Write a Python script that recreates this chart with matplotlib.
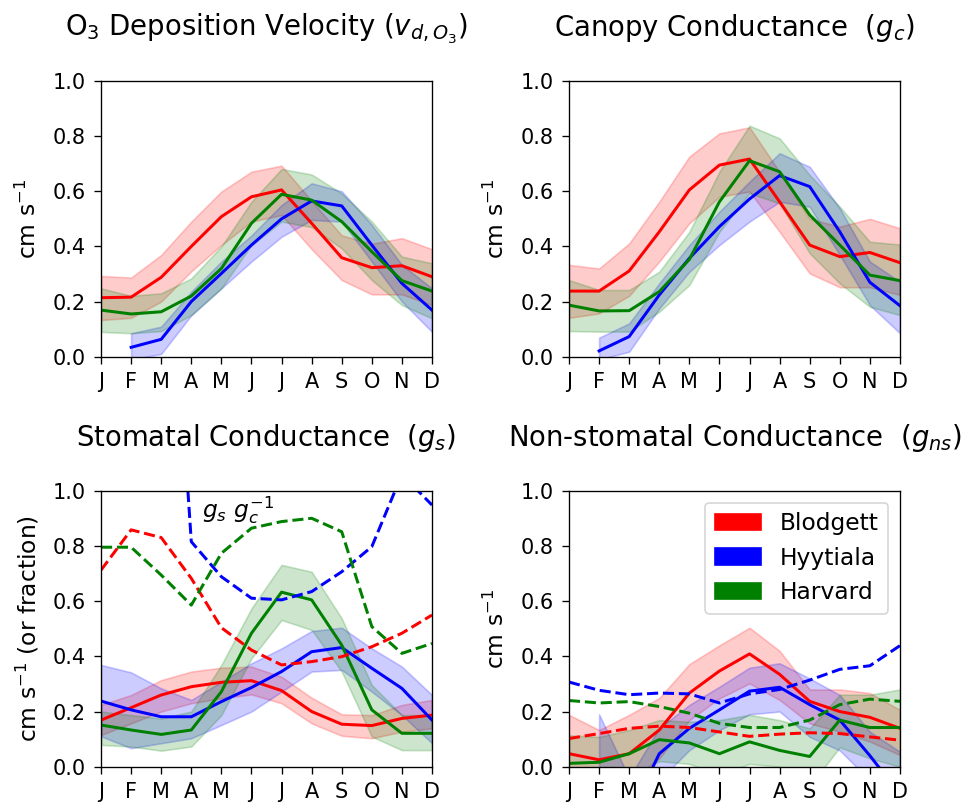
import numpy as np
import matplotlib
matplotlib.use("Agg")
import matplotlib.pyplot as plt
from matplotlib.patches import Patch

nan = np.nan
months = ["J", "F", "M", "A", "M", "J", "J", "A", "S", "O", "N", "D"]
sites = ["Blodgett", "Hyytiala", "Harvard"]
colors = ["red", "blue", "green"]

# Panel 1: O3 deposition velocity
vd_blod = [0.214, 0.216, 0.288, 0.40, 0.508, 0.58, 0.605, 0.484, 0.359, 0.323, 0.33, 0.29]
vd_blod_hi = [0.293, 0.287, 0.369, 0.49, 0.599, 0.671, 0.693, 0.565, 0.44, 0.41, 0.43, 0.39]
vd_blod_lo = [0.133, 0.141, 0.20, 0.31, 0.405, 0.49, 0.514, 0.39, 0.278, 0.226, 0.226, 0.187]
vd_hyyt = [nan, 0.034, 0.063, 0.20, 0.302, 0.405, 0.50, 0.565, 0.547, 0.405, 0.266, 0.169]
vd_hyyt_hi = [nan, 0.085, 0.109, 0.236, 0.345, 0.44, 0.55, 0.629, 0.60, 0.478, 0.333, 0.248]
vd_hyyt_lo = [nan, -0.01, 0.01, 0.15, 0.248, 0.345, 0.435, 0.496, 0.49, 0.345, 0.20, 0.09]
vd_harv = [0.169, 0.155, 0.163, 0.22, 0.32, 0.484, 0.589, 0.568, 0.49, 0.381, 0.276, 0.238]
vd_harv_hi = [0.248, 0.221, 0.23, 0.284, 0.40, 0.562, 0.681, 0.661, 0.592, 0.49, 0.363, 0.339]
vd_harv_lo = [0.09, 0.085, 0.093, 0.151, 0.248, 0.405, 0.49, 0.47, 0.393, 0.278, 0.187, 0.139]

# Panel 2: canopy conductance
gc_blod = [0.238, 0.238, 0.311, 0.453, 0.605, 0.695, 0.717, 0.562, 0.405, 0.363, 0.378, 0.341]
gc_blod_hi = [0.333, 0.32, 0.411, 0.562, 0.726, 0.81, 0.832, 0.67, 0.50, 0.472, 0.50, 0.466]
gc_blod_lo = [0.141, 0.157, 0.221, 0.345, 0.484, 0.58, 0.599, 0.453, 0.302, 0.252, 0.252, 0.224]
gc_hyyt = [nan, 0.021, 0.073, 0.224, 0.357, 0.472, 0.572, 0.657, 0.617, 0.453, 0.27, 0.185]
gc_hyyt_hi = [nan, 0.069, 0.121, 0.266, 0.405, 0.526, 0.635, 0.738, 0.689, 0.538, 0.345, 0.272]
gc_hyyt_lo = [nan, -0.01, 0.018, 0.175, 0.308, 0.405, 0.49, 0.562, 0.544, 0.369, 0.187, 0.085]
gc_harv = [0.187, 0.166, 0.167, 0.236, 0.353, 0.562, 0.711, 0.671, 0.514, 0.405, 0.296, 0.276]
gc_harv_hi = [0.278, 0.242, 0.242, 0.308, 0.453, 0.671, 0.838, 0.792, 0.659, 0.544, 0.417, 0.407]
gc_harv_lo = [0.093, 0.091, 0.091, 0.163, 0.26, 0.453, 0.593, 0.556, 0.375, 0.266, 0.181, 0.151]

# Panel 3: stomatal conductance and gs/gc ratio
gs_blod = [0.169, 0.214, 0.26, 0.29, 0.306, 0.312, 0.276, 0.20, 0.154, 0.149, 0.175, 0.187]
gs_blod_hi = [0.224, 0.26, 0.314, 0.345, 0.359, 0.363, 0.326, 0.25, 0.19, 0.187, 0.224, 0.242]
gs_blod_lo = [0.115, 0.157, 0.20, 0.23, 0.248, 0.262, 0.23, 0.157, 0.112, 0.103, 0.127, 0.139]
gs_hyyt = [0.238, 0.206, 0.181, 0.181, 0.236, 0.287, 0.345, 0.417, 0.432, 0.357, 0.284, 0.169]
gs_hyyt_hi = [0.369, 0.342, 0.284, 0.242, 0.308, 0.375, 0.429, 0.492, 0.504, 0.429, 0.363, 0.26]
gs_hyyt_lo = [0.11, 0.067, 0.085, 0.103, 0.151, 0.20, 0.272, 0.345, 0.351, 0.272, 0.187, 0.085]
gs_harv = [0.151, 0.133, 0.117, 0.133, 0.272, 0.484, 0.633, 0.605, 0.441, 0.206, 0.121, 0.121]
gs_harv_hi = [0.20, 0.187, 0.175, 0.20, 0.369, 0.574, 0.732, 0.707, 0.538, 0.296, 0.187, 0.187]
gs_harv_lo = [0.079, 0.073, 0.058, 0.073, 0.187, 0.393, 0.532, 0.496, 0.345, 0.109, 0.06, 0.06]
ratio_blod = [0.713, 0.859, 0.831, 0.683, 0.504, 0.423, 0.369, 0.381, 0.399, 0.435, 0.484, 0.55]
ratio_hyyt = [nan, 9.8, 2.45, 0.816, 0.689, 0.611, 0.605, 0.635, 0.707, 0.798, 1.06, 0.949]
ratio_harv = [0.796, 0.796, 0.695, 0.586, 0.774, 0.865, 0.889, 0.901, 0.852, 0.508, 0.411, 0.447]

# Panel 4: non-stomatal conductance
gns_blod = [0.047, 0.025, 0.047, 0.133, 0.267, 0.347, 0.409, 0.335, 0.237, 0.20, 0.179, 0.139]
gns_blod_hi = [0.188, 0.133, 0.188, 0.249, 0.372, 0.44, 0.504, 0.42, 0.28, 0.28, 0.267, 0.206]
gns_blod_lo = [-0.05, -0.08, -0.05, 0.03, 0.169, 0.248, 0.302, 0.242, 0.157, 0.127, 0.091, 0.042]
gns_hyyt = [nan, -0.2, -0.18, 0.047, 0.139, 0.206, 0.274, 0.288, 0.225, 0.169, 0.04, -0.1]
gns_hyyt_hi = [nan, 0.19, -0.04, 0.14, 0.224, 0.29, 0.359, 0.375, 0.32, 0.26, 0.127, 0.054]
gns_hyyt_lo = [nan, -0.6, -0.35, -0.05, 0.06, 0.132, 0.19, 0.20, 0.108, 0.059, -0.05, -0.25]
gns_harv = [0.012, 0.016, 0.047, 0.098, 0.086, 0.047, 0.09, 0.059, 0.037, 0.169, 0.142, 0.142]
gns_harv_hi = [0.114, 0.108, 0.133, 0.169, 0.163, 0.169, 0.188, 0.169, 0.139, 0.261, 0.261, 0.28]
gns_harv_lo = [-0.09, -0.08, -0.04, 0.02, 0.01, -0.03, 0.01, 0.0, -0.07, 0.07, 0.03, 0.0]
gns2_blod = [0.102, 0.12, 0.139, 0.147, 0.142, 0.126, 0.11, 0.118, 0.123, 0.12, 0.108, 0.096]
gns2_hyyt = [0.307, 0.277, 0.261, 0.267, 0.264, 0.231, 0.264, 0.28, 0.314, 0.353, 0.366, 0.439]
gns2_harv = [0.24, 0.231, 0.236, 0.218, 0.194, 0.157, 0.142, 0.142, 0.169, 0.225, 0.245, 0.237]

titles = [r"O$_3$ Deposition Velocity ($v_{d,O_3}$)",
          r"Canopy Conductance  ($g_c$)",
          r"Stomatal Conductance  ($g_s$)",
          r"Non-stomatal Conductance  ($g_{ns}$)"]
ylabels = [r"cm s$^{-1}$", r"cm s$^{-1}$", r"cm s$^{-1}$ (or fraction)", r"cm s$^{-1}$"]

panels = [
    [(vd_blod, vd_blod_lo, vd_blod_hi), (vd_hyyt, vd_hyyt_lo, vd_hyyt_hi), (vd_harv, vd_harv_lo, vd_harv_hi)],
    [(gc_blod, gc_blod_lo, gc_blod_hi), (gc_hyyt, gc_hyyt_lo, gc_hyyt_hi), (gc_harv, gc_harv_lo, gc_harv_hi)],
    [(gs_blod, gs_blod_lo, gs_blod_hi), (gs_hyyt, gs_hyyt_lo, gs_hyyt_hi), (gs_harv, gs_harv_lo, gs_harv_hi)],
    [(gns_blod, gns_blod_lo, gns_blod_hi), (gns_hyyt, gns_hyyt_lo, gns_hyyt_hi), (gns_harv, gns_harv_lo, gns_harv_hi)],
]
dashed = {2: [ratio_blod, ratio_hyyt, ratio_harv], 3: [gns2_blod, gns2_hyyt, gns2_harv]}

plt.rcParams["font.family"] = ["DejaVu Sans"]
fig, axes = plt.subplots(2, 2, figsize=(965 / 120, 806 / 120), dpi=120)
fig.subplots_adjust(left=0.1047, right=0.9326, top=0.8995, bottom=0.0488,
                    wspace=0.414, hspace=0.487)
x = np.arange(12)

for i, ax in enumerate(axes.flat):
    for (mean, lo, hi), c in zip(panels[i], colors):
        ax.fill_between(x, np.array(lo), np.array(hi), color=c, alpha=0.2)
        ax.plot(x, mean, color=c, lw=1.8)
    if i in dashed:
        for d, c in zip(dashed[i], colors):
            ax.plot(x, d, color=c, lw=1.8, ls="--")
    ax.set_xlim(0, 11)
    ax.set_ylim(0, 1)
    ax.set_xticks(x)
    ax.set_xticklabels(months)
    ax.set_yticks(np.arange(0, 1.01, 0.2))
    ax.tick_params(labelsize=12.5, length=4, pad=5)
    ax.set_ylabel(ylabels[i], fontsize=14, labelpad=7)
    ax.set_title(titles[i], fontsize=16.5, pad=27)

axes[1, 0].text(3.35, 0.93, r"$g_s\ g_c^{-1}$", fontsize=14, va="center", ha="left")

handles = [Patch(facecolor=c, edgecolor=c) for c in colors]
axes[1, 1].legend(handles, sites, loc="upper right", fontsize=14)

fig.savefig("out.png", dpi=120)
